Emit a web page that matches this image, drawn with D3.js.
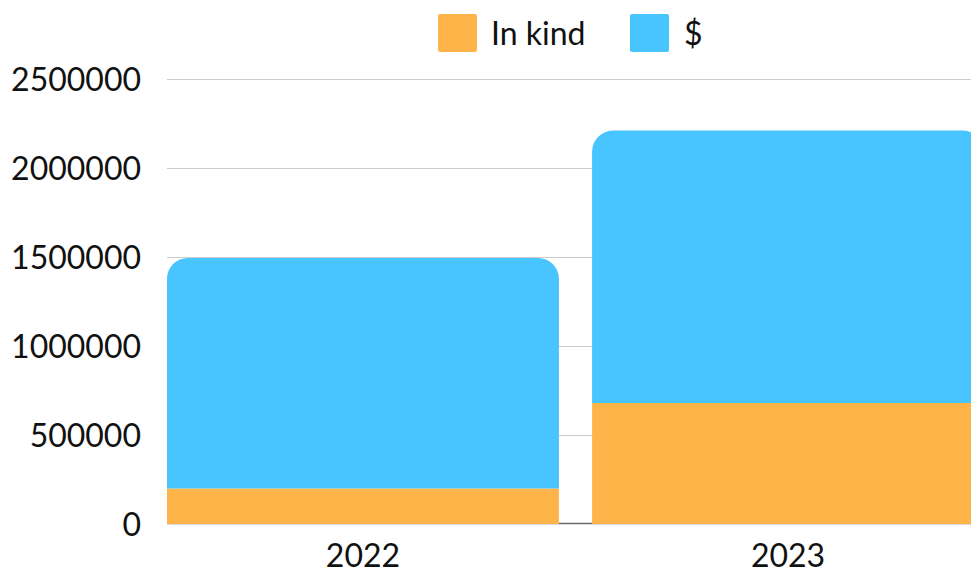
<!DOCTYPE html>
<html>
<head>
<meta charset="utf-8">
<script src="https://cdn.jsdelivr.net/npm/d3@7"></script>
<style>
  html, body { margin: 0; padding: 0; background: #fff; overflow: hidden; }
  svg { display: block; font-family: Lato, "Noto Sans", sans-serif; }
</style>
</head>
<body>
<svg id="chart" width="971" height="570"></svg>
<script>
const categories = ["2022", "2023"];
const inKind = [200000, 680000];
const dollars = [1295000, 1530000];
const seriesNames = ["In kind", "$"];
const seriesColors = ["#FFB44A", "#48C4FF"];
const yTicks = [0, 500000, 1000000, 1500000, 2000000, 2500000];

(function () {
const svg = d3.select("#chart");
const W = 971;
const mLeft = 167, plotRight = 984, mTop = 79, mBottom = 524;
const FS = 32;

const data = categories.map((c, i) => ({ cat: c, "In kind": inKind[i], "$": dollars[i] }));
const stacked = d3.stack().keys(seriesNames)(data);

const x = d3.scaleBand().domain(categories).range([mLeft, plotRight]).paddingInner(0.078).paddingOuter(0);
const y = d3.scaleLinear().domain([0, 2500000]).range([mBottom, mTop]);

// gridlines
svg.append("g").selectAll("line").data(yTicks.filter(d => d > 0)).join("line")
  .attr("x1", mLeft).attr("x2", W)
  .attr("y1", d => Math.round(y(d)) + 0.5).attr("y2", d => Math.round(y(d)) + 0.5)
  .attr("stroke", "#cccccc").attr("stroke-width", 1);

// baseline
svg.append("line").attr("x1", mLeft).attr("x2", W)
  .attr("y1", y(0) - 0.5).attr("y2", y(0) - 0.5)
  .attr("stroke", "#6b6b6b").attr("stroke-width", 1.5);

// y tick labels
const yAxis = d3.axisLeft(y).tickValues(yTicks).tickFormat(d3.format("d")).tickSize(0).tickPadding(0);
const yg = svg.append("g").attr("transform", `translate(141,0)`).call(yAxis);
yg.select(".domain").remove();
yg.selectAll("text").attr("font-size", FS).attr("fill", "#111").attr("font-family", "Lato, sans-serif").attr("dy", "0.36em");

// x labels
const xAxis = d3.axisBottom(x).tickSize(0).tickPadding(0);
const xg = svg.append("g").attr("transform", `translate(0,${mBottom})`).call(xAxis);
xg.select(".domain").remove();
xg.selectAll("text").attr("font-size", FS).attr("fill", "#111").attr("font-family", "Lato, sans-serif")
  .attr("y", 43).attr("dy", 0);

// bars
const r = 21;
function barPath(x0, w, y0, y1, rounded) {
  if (!rounded) return `M${x0},${y0}V${y1}H${x0 + w}V${y0}Z`;
  return `M${x0},${y0}V${y1 + r}A${r},${r} 0 0 1 ${x0 + r},${y1}H${x0 + w - r}A${r},${r} 0 0 1 ${x0 + w},${y1 + r}V${y0}Z`;
}
stacked.forEach((s, si) => {
  svg.append("g").selectAll("path").data(s).join("path")
    .attr("d", d => barPath(x(d.data.cat), x.bandwidth(), y(d[0]), y(d[1]), si === stacked.length - 1))
    .attr("fill", seriesColors[si]);
});

// legend
const legend = svg.append("g");
const legendItems = [{ name: seriesNames[0], x: 438, tx: 491 }, { name: seriesNames[1], x: 630, tx: 684 }];
legendItems.forEach((it, i) => {
  legend.append("rect").attr("x", it.x).attr("y", 14).attr("width", 39).attr("height", 38)
    .attr("rx", 2).attr("fill", seriesColors[i]);
  legend.append("text").attr("x", it.tx).attr("y", 33).attr("dy", "0.36em")
    .attr("font-size", FS).attr("fill", "#111").attr("font-family", "Lato, sans-serif").text(it.name);
});
})();
</script>
</body>
</html>
